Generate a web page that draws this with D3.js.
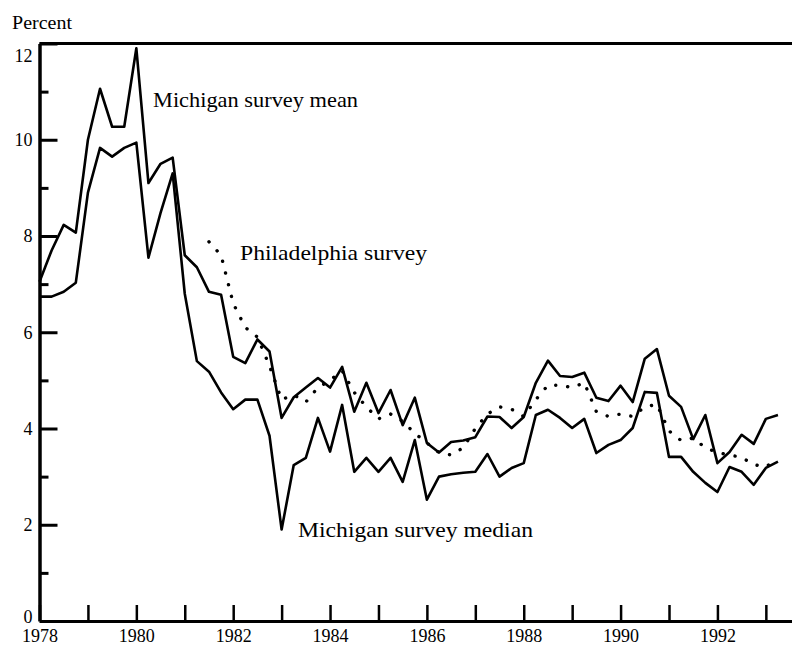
<!DOCTYPE html>
<html><head><meta charset="utf-8">
<script src="https://cdn.jsdelivr.net/npm/d3@7"></script>
<style>
html,body{margin:0;padding:0;background:#fff;}
svg{display:block;}
text{font-family:"Liberation Serif","Times New Roman",serif;fill:#000;}
</style>
</head><body>
<svg id="chart" width="792" height="647"></svg>
<script>
// ---- data (quarterly, percent) ----
const yearTicks = [1978,1979,1980,1981,1982,1983,1984,1985,1986,1987,1988,1989,1990,1991,1992,1993];
const yearLabels = [1978,1980,1982,1984,1986,1988,1990,1992];
const percentTicks = [0,1,2,3,4,5,6,7,8,9,10,11,12];
const percentLabels = [0,2,4,6,8,10,12];

const meanStart = 1978;
const michiganMean = [
  7.05, 7.7, 8.23, 8.07,
  10.0, 11.06, 10.27, 10.27,
  11.9, 9.1, 9.5, 9.63,
  7.6, 7.35, 6.84, 6.78,
  5.49, 5.36, 5.85, 5.6,
  4.22, 4.65, 4.85, 5.05,
  4.85, 5.28, 4.35, 4.95,
  4.32, 4.8, 4.07, 4.64,
  3.7, 3.5, 3.72, 3.75,
  3.82, 4.25, 4.24, 4.01,
  4.24, 4.95, 5.41, 5.09,
  5.07, 5.16, 4.64, 4.57,
  4.89, 4.55, 5.45, 5.65,
  4.68, 4.45, 3.78, 4.28,
  3.28, 3.51, 3.87, 3.68,
  4.2, 4.28
];

const medianStart = 1978;
const michiganMedian = [
  6.74, 6.74, 6.84, 7.03,
  8.9, 9.83, 9.65, 9.83,
  9.94, 7.55, 8.48, 9.3,
  6.8, 5.4, 5.18, 4.75,
  4.4, 4.6, 4.6, 3.85,
  1.9, 3.24, 3.39, 4.22,
  3.52, 4.49, 3.1, 3.39,
  3.1, 3.39, 2.89, 3.76,
  2.52, 3.0, 3.05, 3.08,
  3.1, 3.47, 3.0, 3.18,
  3.28, 4.28, 4.39, 4.22,
  4.01, 4.2, 3.49, 3.66,
  3.76, 4.01, 4.76, 4.74,
  3.41, 3.41, 3.1, 2.87,
  2.68, 3.2, 3.1, 2.83,
  3.18, 3.31
];

const phillyStart = 1981.5;
const philadelphia = [
  7.88, 7.6,
  6.6, 6.1, 5.9, 5.3,
  4.6, 4.7, 4.55, 4.85,
  5.0, 5.2, 4.75, 4.45,
  4.2, 4.3, 4.15, 3.9,
  3.7, 3.5, 3.45, 3.6,
  4.0, 4.3, 4.45, 4.4,
  4.25, 4.6, 4.9, 4.9,
  4.85, 4.95, 4.35, 4.25,
  4.3, 4.25, 4.45, 4.5,
  3.95, 3.75, 3.8, 3.6,
  3.5, 3.45, 3.4, 3.25,
  3.2, 3.38
];

// ---- drawing ----
const svg = d3.select("#chart");
const x = d3.scaleLinear().domain([1978, 1993.54]).range([39.5, 792]);
const y = d3.scaleLinear().domain([0, 12]).range([621, 43.5]);

const toPoints = (start, vals) => vals.map((v, i) => ({t: start + i / 4, v}));
const line = d3.line().x(d => x(d.t)).y(d => y(d.v)).curve(d3.curveLinear);

// top frame line
svg.append("line")
  .attr("x1", x.range()[0]).attr("x2", x.range()[1])
  .attr("y1", y(12)).attr("y2", y(12))
  .attr("stroke", "#000").attr("stroke-width", 3);

// bottom axis
const xAxis = svg.append("g").attr("transform", `translate(0,${y(0)})`)
  .call(d3.axisBottom(x).tickValues(yearTicks).tickSizeInner(-16).tickSizeOuter(0)
    .tickFormat(d => yearLabels.includes(d) ? String(d) : ""));
xAxis.select(".domain").attr("stroke", "#000").attr("stroke-width", 3);
xAxis.selectAll(".tick line").attr("stroke", "#000").attr("stroke-width", 2.5);
xAxis.selectAll(".tick text").attr("y", 21).attr("dy", 0)
  .attr("font-size", 18).attr("font-family", "Liberation Serif").attr("fill", "#000");

// left axis
const yAxis = svg.append("g").attr("transform", `translate(${x(1978)},0)`)
  .call(d3.axisLeft(y).tickValues(percentTicks).tickSizeInner(-18).tickSizeOuter(0).tickPadding(7)
    .tickFormat(d => percentLabels.includes(d) ? String(d) : ""));
yAxis.select(".domain").attr("stroke", "#000").attr("stroke-width", 3.5);
yAxis.selectAll(".tick line").attr("stroke", "#000").attr("stroke-width", 3)
  .attr("x2", d => d % 2 === 0 ? 18 : 9);
yAxis.selectAll(".tick text")
  .attr("font-size", 18).attr("font-family", "Liberation Serif").attr("fill", "#000")
  .attr("dy", d => d === 12 ? "1.0em" : (d === 0 ? "0.1em" : "0.32em"));

// series
svg.append("path").datum(toPoints(phillyStart, philadelphia))
  .attr("d", line).attr("fill", "none").attr("stroke", "#000")
  .attr("stroke-width", 3.4).attr("stroke-linecap", "round")
  .attr("stroke-dasharray", "0.1,12");

svg.append("path").datum(toPoints(medianStart, michiganMedian))
  .attr("d", line).attr("fill", "none").attr("stroke", "#000")
  .attr("stroke-width", 2.6).attr("stroke-linejoin", "round");

svg.append("path").datum(toPoints(meanStart, michiganMean))
  .attr("d", line).attr("fill", "none").attr("stroke", "#000")
  .attr("stroke-width", 2.6).attr("stroke-linejoin", "round");

// labels
svg.append("text").attr("x", 12).attr("y", 29).attr("font-size", 18)
  .attr("textLength", 60).attr("lengthAdjust", "spacingAndGlyphs").text("Percent");
svg.append("text").attr("x", 153).attr("y", 107).attr("font-size", 22)
  .attr("textLength", 205).attr("lengthAdjust", "spacingAndGlyphs").text("Michigan survey mean");
svg.append("text").attr("x", 240).attr("y", 260).attr("font-size", 22)
  .attr("textLength", 187).attr("lengthAdjust", "spacingAndGlyphs").text("Philadelphia survey");
svg.append("text").attr("x", 298).attr("y", 537).attr("font-size", 22)
  .attr("textLength", 235).attr("lengthAdjust", "spacingAndGlyphs").text("Michigan survey median");
</script>
</body></html>
